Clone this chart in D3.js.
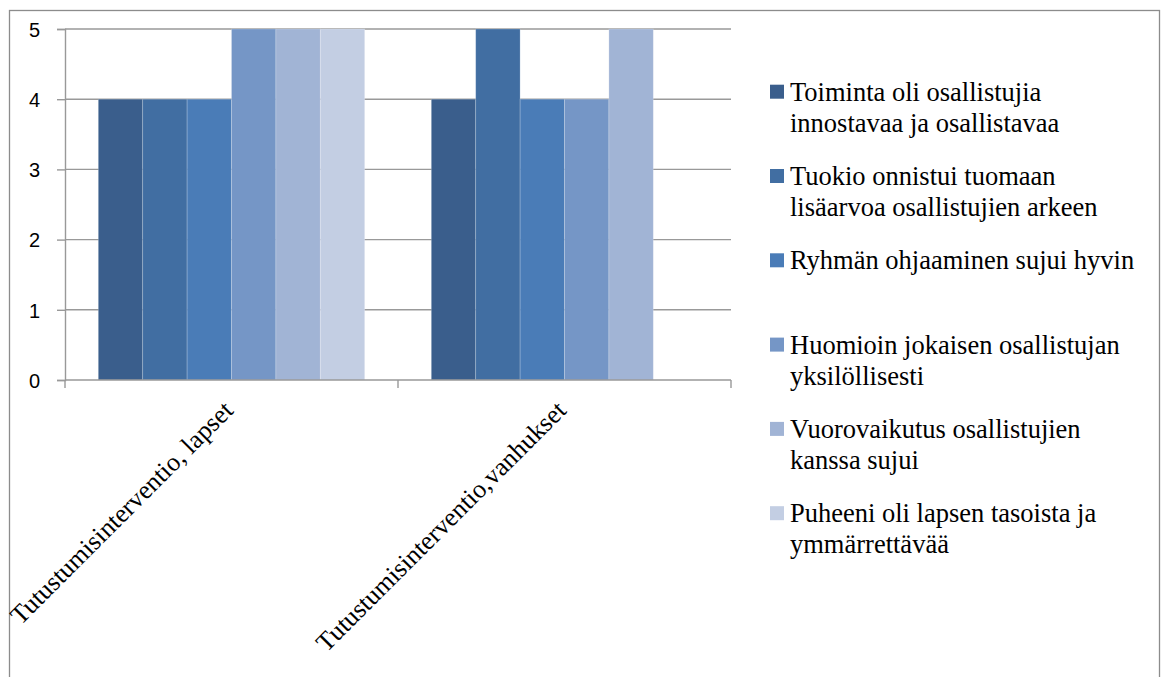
<!DOCTYPE html>
<html><head><meta charset="utf-8">
<script src="https://cdn.jsdelivr.net/npm/d3@7"></script>
<style>body{margin:0;background:#fff}svg{display:block}</style>
</head><body>
<script>
const categories = ["Tutustumisinterventio, lapset", "Tutustumisinterventio,vanhukset"];
const seriesNames = [
  "Toiminta oli osallistujia innostavaa ja osallistavaa",
  "Tuokio onnistui tuomaan lisäarvoa osallistujien arkeen",
  "Ryhmän ohjaaminen sujui hyvin",
  "Huomioin jokaisen osallistujan yksilöllisesti",
  "Vuorovaikutus osallistujien kanssa sujui",
  "Puheeni oli lapsen tasoista ja ymmärrettävää"
];
const legendLines = [
  ["Toiminta oli osallistujia", "innostavaa ja osallistavaa"],
  ["Tuokio onnistui tuomaan", "lisäarvoa osallistujien arkeen"],
  ["Ryhmän ohjaaminen sujui hyvin"],
  ["Huomioin jokaisen osallistujan", "yksilöllisesti"],
  ["Vuorovaikutus osallistujien", "kanssa sujui"],
  ["Puheeni oli lapsen tasoista ja", "ymmärrettävää"]
];
// values[series][category]
const values = [
  [4, 4],
  [4, 5],
  [4, 4],
  [5, 4],
  [5, 5],
  [5, 0]
];
const yTicks = [0, 1, 2, 3, 4, 5];
const colors = ["#3a5e8c", "#416ea2", "#4a7cb7", "#7596c6", "#a1b4d5", "#c3cee3"];

const W = 1161, H = 677;
const svg = d3.select("body").append("svg").attr("width", W).attr("height", H);

// outer border
svg.append("rect").attr("x", 9.5).attr("y", 10.5).attr("width", 1150).attr("height", 700)
  .attr("fill", "none").attr("stroke", "#8c8c8c").attr("stroke-width", 1.3);

const x0 = d3.scaleBand().domain(categories).range([65, 731]).paddingInner(0).paddingOuter(0);
const x1 = d3.scaleBand().domain(d3.range(seriesNames.length)).range([0, x0.bandwidth()])
  .paddingInner(0).paddingOuter(0.75);
const y = d3.scaleLinear().domain([0, 5]).range([380, 29]);

// gridlines
svg.append("g").selectAll("line").data(yTicks.filter(d => d > 0)).join("line")
  .attr("x1", 65).attr("x2", 731).attr("y1", d => y(d)).attr("y2", d => y(d))
  .attr("stroke", "#999").attr("stroke-width", 1.4);

// bars
const g = svg.append("g");
categories.forEach((c, ci) => {
  seriesNames.forEach((s, si) => {
    const v = values[si][ci];
    if (!v) return;
    g.append("rect")
      .attr("x", x0(c) + x1(si)).attr("width", x1.bandwidth())
      .attr("y", y(v)).attr("height", y(0) - y(v))
      .attr("fill", colors[si])
      .attr("stroke", "rgba(255,255,255,0.25)").attr("stroke-width", 0.8);
  });
});

// y axis
const yAxis = d3.axisLeft(y).tickValues(yTicks).tickSize(8).tickPadding(17).tickFormat(d3.format("d"));
const ya = svg.append("g").attr("transform", "translate(65,0)").call(yAxis);
ya.select(".domain").attr("stroke", "#999").attr("stroke-width", 1.4);
ya.selectAll(".tick line").attr("stroke", "#999").attr("stroke-width", 1.4);
ya.selectAll(".tick text").attr("font-family", "'Liberation Sans', Arial, sans-serif")
  .attr("font-size", 20).attr("fill", "#000").attr("dy", "0.36em");

// x axis
svg.append("line").attr("x1", 65).attr("x2", 731).attr("y1", 380).attr("y2", 380)
  .attr("stroke", "#999").attr("stroke-width", 1.4);
const edges = [x0(categories[0]), ...categories.map(c => x0(c) + x0.bandwidth())];
svg.append("g").selectAll("line").data(edges).join("line")
  .attr("x1", d => d).attr("x2", d => d)
  .attr("y1", 380).attr("y2", 388).attr("stroke", "#999").attr("stroke-width", 1.4);

svg.append("g").selectAll("text").data(categories).join("text")
  .attr("transform", c => `translate(${x0(c) + x0.bandwidth() / 2 + 3},${412}) rotate(-45)`)
  .attr("text-anchor", "end")
  .attr("font-family", "'Liberation Serif', 'Times New Roman', serif")
  .attr("font-size", 26).attr("fill", "#000")
  .text(c => c);

// legend
const lg = svg.append("g");
legendLines.forEach((lines, i) => {
  const by = 100.7 + i * 84.3;
  lg.append("rect").attr("x", 770).attr("y", by - 16).attr("width", 14).attr("height", 14).attr("fill", colors[i]);
  lines.forEach((t, li) => {
    lg.append("text").attr("x", 790).attr("y", by + li * 31)
      .attr("font-family", "'Liberation Serif', 'Times New Roman', serif")
      .attr("font-size", 26.5).attr("fill", "#000").text(t);
  });
});
</script>
</body></html>
